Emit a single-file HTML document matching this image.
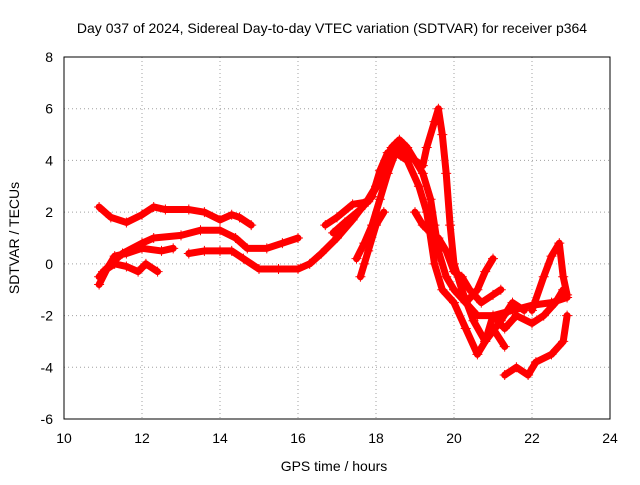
<!DOCTYPE html>
<html><head><meta charset="utf-8"><style>
body{margin:0;background:#fff}
svg text{font-family:"Liberation Sans",sans-serif;font-size:14px;fill:#000}
</style></head><body>
<svg id="chart" width="640" height="480">
<rect width="640" height="480" fill="#fff"/>
<text x="332" y="33" text-anchor="middle">Day 037 of 2024, Sidereal Day-to-day VTEC variation (SDTVAR) for receiver p364</text>
<text x="334" y="471" text-anchor="middle">GPS time / hours</text>
<text transform="translate(19,238) rotate(-90)" text-anchor="middle">SDTVAR / TECUs</text>
<g id="grid"></g><g id="series"></g>
<rect x="64" y="57" width="546" height="362" fill="none" stroke="#000" stroke-width="1"/>
</svg>
<script>
const xTicks=[10,12,14,16,18,20,22,24];
const yTicks=[-6,-4,-2,0,2,4,6,8];
const traceA=[[10.9,2.2],[11.2,1.8],[11.6,1.6],[12.0,1.9],[12.3,2.2],[12.6,2.1],[13.2,2.1],[13.6,2.0],[14.0,1.7],[14.3,1.9],[14.5,1.8],[14.8,1.5]];
const traceB=[[10.9,-0.8],[11.1,-0.2],[11.3,0.3],[11.6,0.4],[12.0,0.6],[12.5,0.5],[12.8,0.6]];
const traceC=[[10.9,-0.5],[11.2,0.0],[11.5,0.4],[12.0,0.8],[12.3,1.0],[13.0,1.1],[13.5,1.3],[14.0,1.3],[14.4,1.0],[14.7,0.6],[15.2,0.6],[15.6,0.8],[16.0,1.0]];
const traceD=[[13.2,0.4],[13.6,0.5],[14.0,0.5],[14.3,0.5],[14.6,0.2],[15.0,-0.2],[15.5,-0.2],[16.0,-0.2],[16.3,0.0],[16.6,0.4],[17.0,1.0],[17.4,1.7],[17.8,2.5],[18.0,3.0],[18.2,3.8],[18.4,4.5],[18.6,4.8],[18.8,4.5],[19.0,4.0],[19.2,3.5],[19.4,2.5],[19.5,1.5],[19.6,0.5],[19.8,-0.5],[20.0,-1.0],[20.3,-1.5],[20.6,-2.0],[21.0,-2.0],[21.5,-1.8],[22.0,-1.6],[22.5,-1.5],[22.9,-1.3]];
const traceE=[[11.0,-0.3],[11.3,0.0],[11.6,-0.1],[11.9,-0.3],[12.1,0.0],[12.4,-0.3]];
const traceF=[[16.7,1.5],[17.0,1.8],[17.4,2.3],[17.8,2.4],[18.1,3.2],[18.3,4.0],[18.6,4.5],[19.0,4.0],[19.2,3.8],[19.3,4.5],[19.5,5.5],[19.6,6.0],[19.7,5.0],[19.8,3.5],[19.9,1.5],[20.0,0.0],[20.2,-1.0],[20.5,-2.2],[20.8,-3.0],[21.2,-2.2],[21.5,-1.5],[21.8,-1.8]];
const traceF2=[[16.9,1.2],[17.2,1.6],[17.6,2.1],[17.9,2.6],[18.1,3.6],[18.3,4.3]];
const traceG=[[17.5,0.2],[17.7,0.8],[17.9,1.5],[18.1,2.5],[18.3,3.5],[18.5,4.3],[18.8,4.0],[19.1,3.0],[19.3,2.0],[19.5,0.0],[19.7,-1.0],[20.0,-1.5],[20.3,-2.5],[20.6,-3.5],[20.8,-3.0],[21.0,-2.0],[21.3,-2.5],[21.6,-2.0],[22.0,-2.3],[22.3,-2.0],[22.6,-1.5],[22.8,-1.0]];
const traceH=[[17.6,-0.5],[17.7,0.0],[17.8,0.5],[18.0,1.5],[18.2,2.0]];
const traceI=[[19.0,2.0],[19.2,1.5],[19.4,1.2],[19.6,1.0],[19.8,0.5],[20.0,-0.3],[20.2,-0.5],[20.4,-1.0],[20.7,-1.5],[21.0,-1.2],[21.2,-1.0]];
const traceI2=[[20.3,-1.5],[20.6,-1.0],[20.8,-0.3],[21.0,0.2]];
const traceJ=[[21.3,-4.3],[21.6,-4.0],[21.9,-4.3],[22.1,-3.8],[22.5,-3.5],[22.8,-3.0],[22.9,-2.0]];
const traceK=[[22.0,-1.8],[22.3,-0.5],[22.5,0.3],[22.7,0.8],[22.8,-0.5],[22.9,-1.2]];
const traceL=[[21.0,-2.5],[21.3,-3.2]];
const traces=[traceA,traceB,traceC,traceD,traceE,traceF,traceF2,traceG,traceH,traceI,traceI2,traceJ,traceK,traceL];
const X=v=>64+(v-10)*(546/14), Y=v=>419-(v+6)*(362/14);
const NS='http://www.w3.org/2000/svg';
const grid=document.getElementById('grid'), ser=document.getElementById('series'), svg=document.getElementById('chart');
function mk(t,a,p){const e=document.createElementNS(NS,t);for(const k in a)e.setAttribute(k,a[k]);p.appendChild(e);return e;}
xTicks.forEach(t=>{const x=X(t);
 if(t>10&&t<24){const g=mk('line',{x1:x,x2:x,y1:57,y2:419,stroke:'#a0a0a0','stroke-dasharray':'1,3'},grid);
 
 }
 const l=mk('text',{x:x,y:443,'text-anchor':'middle'},svg);l.textContent=t;
 
 });
yTicks.forEach(t=>{const y=Y(t);
 if(t>-6&&t<8){const g=mk('line',{x1:64,x2:610,y1:y,y2:y,stroke:'#a0a0a0','stroke-dasharray':'1,3'},grid);
 
 }
 const l=mk('text',{x:53,y:y+5,'text-anchor':'end'},svg);l.textContent=t;
 
 });
traces.forEach((tr,i)=>{
 const pl=mk('polyline',{points:tr.map(p=>X(p[0])+','+Y(p[1])).join(' '),fill:'none',stroke:'#ff0000','stroke-width':7,'stroke-linejoin':'round','stroke-linecap':'round'},ser);
 
 
 tr.forEach(p=>{const x=X(p[0]),y=Y(p[1]);
  const m=mk('path',{d:`M${x-5},${y}H${x+5}M${x},${y-5}V${y+5}`,stroke:'#ff0000','stroke-width':1},ser);
  
  });
});
</script>
</body></html>
